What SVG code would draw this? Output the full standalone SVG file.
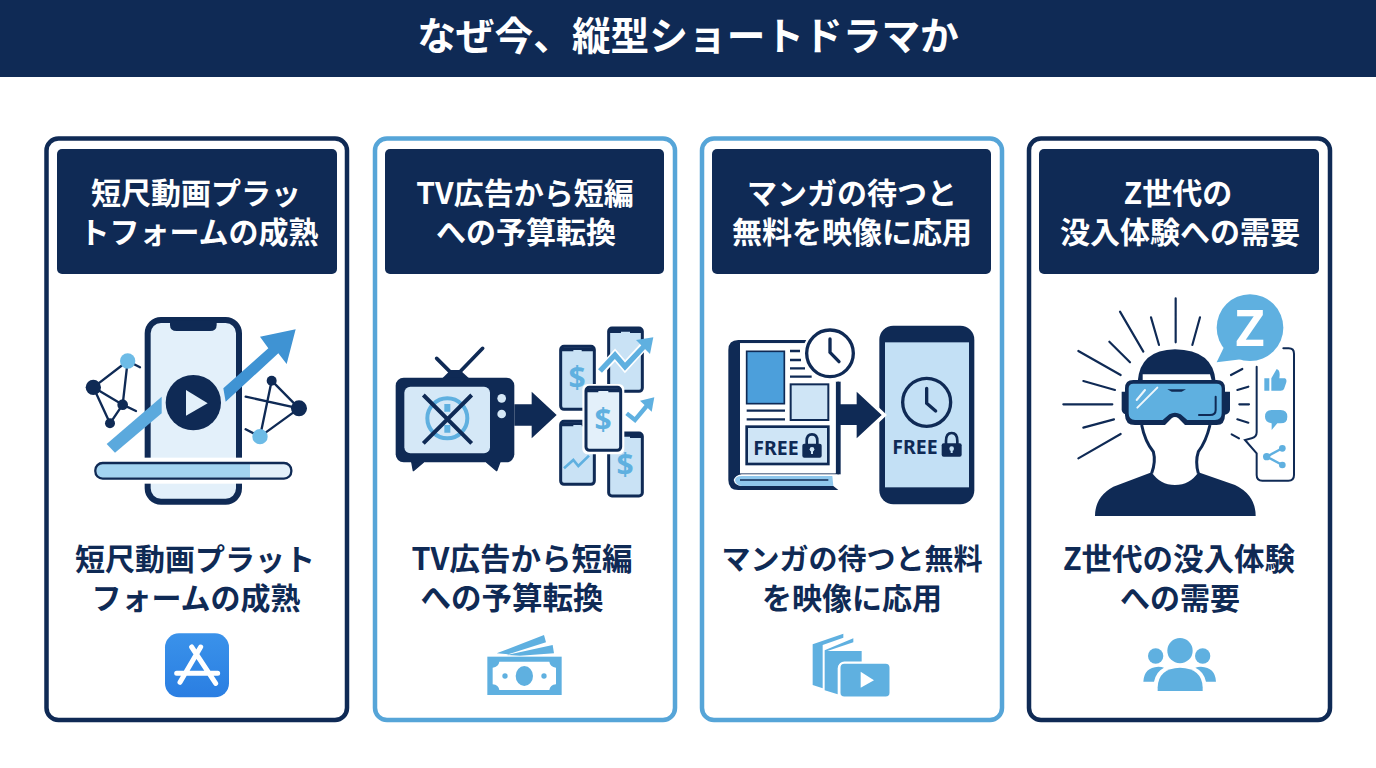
<svg xmlns="http://www.w3.org/2000/svg" width="1376" height="768" viewBox="0 0 1376 768">
<style>
text{font-family:"Noto Sans CJK JP","Noto Sans",sans-serif;font-weight:700;text-anchor:middle}
.title{font-size:38.7px;fill:#fff}
.head{font-size:30px;fill:#fff}
.sub{font-size:30px;fill:#0f2a55}
.free{font-family:"Noto Sans",sans-serif;font-size:19.5px;fill:#0f2a55}
.usd{font-family:"Noto Sans",sans-serif;fill:#5fb0e0;font-size:30px}
.card{fill:#fff;stroke-width:4.5}
.dark{stroke:#0f2a55}.light{stroke:#56a5d8}
.hd{fill:#0f2a55}
.n{fill:#0f2a55}.m{fill:#5fb0e0}.w{fill:#fff}
.ln{stroke:#0f2a55;fill:none;stroke-linecap:round}
.lb{stroke:#5fb0e0;fill:none}
.ph{fill:#c9e2f5;stroke:#0f2a55;stroke-width:9}
</style>
<defs><linearGradient id="app" x1="0" y1="0" x2="0" y2="1"><stop offset="0" stop-color="#3a92ea"/><stop offset="1" stop-color="#2a7ee2"/></linearGradient></defs>
<rect width="1376" height="768" fill="#fff"/>
<g id="title"><rect width="1376" height="77" class="hd"/><text x="688" y="50" class="title">なぜ今、縦型ショートドラマか</text></g>

<g id="card1">
<rect x="46.5" y="138.5" width="300.5" height="581.5" rx="12" class="card dark"/>
<rect x="57" y="149" width="280" height="125" rx="5" class="hd"/>
<text x="196" y="204" class="head">短尺動画プラッ</text><text x="199" y="243" class="head">トフォームの成熟</text>
<g transform="translate(60 300) scale(.33333)">
<rect x="263" y="60" width="274" height="545" rx="40" fill="#e3f0fa" stroke="#0f2a55" stroke-width="18"/>
<path d="M330 62H470V75Q470 93 450 93H350Q330 93 330 75Z" class="n"/>
<rect x="80" y="473" width="640" height="78" fill="#fff"/>
<rect x="106" y="489" width="588" height="47" rx="22" fill="#e3f0fa"/>
<path d="M125 492H570V533H125Q109 533 109 512Q109 492 125 492Z" fill="#a3d4f1"/>
<rect x="106" y="489" width="588" height="47" rx="22" fill="none" stroke="#0f2a55" stroke-width="7"/>
<path d="M203 183L240 202M100 262L203 183M203 183L188 314M100 262L188 314L228 333M100 262L150 370L188 314" class="ln" stroke-width="7"/>
<circle cx="100" cy="262" r="23" class="n"/><circle cx="203" cy="183" r="23" fill="#6dbbe6"/><circle cx="188" cy="314" r="16" class="n"/><circle cx="150" cy="370" r="15" class="n"/>
<path d="M557 290L717 325M635 242L717 325M635 242L600 410M717 325L600 410M557 388L600 410" class="ln" stroke-width="7"/>
<circle cx="635" cy="242" r="15" class="n"/><circle cx="717" cy="325" r="24" class="n"/><circle cx="600" cy="410" r="23" fill="#6dbbe6"/>
<path d="M140 432L165 458L305 340V290Z" fill="#5ba9dd"/>
<path d="M490 265L497 305L655 160L680 192L707 88L600 110L625 145Z" fill="#3f93d3"/>
<circle cx="400" cy="308" r="90" fill="#e3f0fa"/>
<circle cx="400" cy="308" r="83" class="n"/>
<path d="M378 270L443 310L378 347Z" fill="#e3f0fa"/>
</g>
<text x="195" y="570" class="sub">短尺動画プラット</text><text x="196" y="609" class="sub">フォームの成熟</text>
<g transform="translate(150 625) scale(.33333)">
<rect x="45" y="25" width="192" height="192" rx="42" fill="url(#app)"/>
<path d="M152 66L90 172M125 66L197 175M80 145H170M178 145H203" stroke="#fff" stroke-width="15" stroke-linecap="round" fill="none"/>
</g>
</g>

<g id="card2">
<rect x="375" y="138.5" width="300" height="581.5" rx="12" class="card light"/>
<rect x="385" y="149" width="279" height="125" rx="5" class="hd"/>
<text x="525" y="204" class="head">TV広告から短編</text><text x="526" y="243" class="head">への予算転換</text>
<g transform="translate(385 310) scale(.33333)">
<path d="M155 145L200 190M293 115L225 185" class="ln" stroke-width="11"/>
<path d="M172 205L197 180H225L252 205Z" class="n"/>
<path d="M80 455L85 482L115 457ZM305 457L335 482L345 455Z" class="n" stroke="#0f2a55" stroke-width="4" stroke-linejoin="round"/>
<rect x="32" y="203" width="356" height="254" rx="24" class="n"/>
<rect x="58" y="230" width="257" height="200" rx="18" fill="#d5e8f7"/>
<circle cx="187" cy="325" r="60" fill="none" stroke="#5fb0e0" stroke-width="12"/>
<path d="M187 282V305M187 345V368" stroke="#5fb0e0" stroke-width="18" fill="none"/>
<path d="M115 255L260 400M260 255L115 400" stroke="#0f2a55" stroke-width="12" fill="none"/>
<circle cx="350" cy="265" r="13" fill="#d5e8f7"/><circle cx="350" cy="312" r="13" fill="#d5e8f7"/>
<path d="M388 283H440V245L515 315L440 385V347H388Z" class="n"/>
<g class="ph">
<rect x="527" y="109" width="101" height="189" rx="10"/>
<rect x="671" y="54" width="101" height="190" rx="10"/>
<rect x="527" y="334" width="101" height="189" rx="10"/>
<rect x="671" y="369" width="101" height="189" rx="10"/>
</g>
<path d="M527 124V112H628V124H590V120H565V124ZM671 69V57H772V69H735V65H708V69ZM527 349V337H628V349H590V345H565V349ZM671 384V372H772V384H735V380H708V384Z" class="n"/>
<rect x="592" y="222" width="126" height="211" rx="16" fill="#fff"/>
<rect x="603" y="232" width="104" height="189" rx="10" class="ph" style="fill:#e3f0fa"/>
<path d="M603 247V235H707V247H670V243H640V247Z" class="n"/>
<path d="M645 185L690 135L720 170L775 110" fill="none" stroke="#fff" stroke-width="26"/>
<path d="M645 183L690 135L720 170L778 108" class="lb" stroke-width="16"/>
<path d="M753 90L805 82L795 132Z" class="m"/>
<path d="M725 310L750 330L790 282" class="lb" stroke-width="13"/>
<path d="M765 272L808 262L800 305Z" class="m"/>
<path d="M537 475L565 450L580 468L612 437" class="lb" stroke-width="8"/>
</g>
<text x="577" y="388" class="usd">$</text>
<text x="603" y="430" class="usd">$</text>
<text x="625" y="475" class="usd">$</text>
<text x="522" y="570" class="sub" style="font-size:30.5px">TV広告から短編</text><text x="512" y="609" class="sub" style="font-size:30.5px">への予算転換</text>
<g transform="translate(470 625) scale(.33333)">
<path d="M80 85L222 30L228 52L115 88ZM110 90L248 60L252 85L150 92Z" class="m"/>
<rect x="52" y="95" width="223" height="115" class="m"/>
<path d="M88 110H238Q240 125 258 128V178Q240 180 238 195H88Q86 180 68 178V128Q86 125 88 110Z" class="w"/>
<ellipse cx="163" cy="153" rx="26" ry="30" class="m"/><circle cx="105" cy="153" r="8" class="m"/><circle cx="222" cy="153" r="8" class="m"/>
</g>
</g>

<g id="card3">
<rect x="702" y="138.5" width="300" height="581.5" rx="12" class="card light"/>
<rect x="712" y="149" width="279" height="125" rx="5" class="hd"/>
<text x="852" y="204" class="head">マンガの待つと</text><text x="852" y="243" class="head">無料を映像に応用</text>
<g transform="translate(715 315) scale(.33333)">
<path d="M70 75H280V85H75V475H362V200H372V478H80Q60 482 56 495Q60 512 80 513H355L370 525H70Q40 525 40 495V105Q40 75 70 75Z" class="n"/>
<path d="M75 85H272V200H362V475H75Z" fill="#fff"/>
<path d="M372 200V478" stroke="#0f2a55" stroke-width="10"/>
<path d="M60 495Q62 483 80 483H352L355 513H80Q62 510 60 495Z" fill="#8fc7ec"/>
<path d="M75 495H340" stroke="#0f2a55" stroke-width="5"/>
<rect x="95" y="109" width="113" height="157" fill="#4c9fdb" stroke="#0f2a55" stroke-width="5"/>
<path d="M225 108H255M225 135H258M225 160H270M225 185H290M95 287H210M95 313H210" stroke="#0f2a55" stroke-width="7" fill="none"/>
<rect x="227" y="208" width="113" height="107" fill="#cfe5f6" stroke="#0f2a55" stroke-width="6"/>
<rect x="95" y="335" width="245" height="112" fill="#cfe5f6" stroke="#0f2a55" stroke-width="8"/>
<path d="M275 390V378Q275 358 291 358Q307 358 307 378V390" fill="none" stroke="#0f2a55" stroke-width="8"/>
<rect x="262" y="386" width="58" height="42" rx="6" class="n"/><circle cx="291" cy="403" r="7" fill="#cfe5f6"/><rect x="288" y="403" width="6" height="14" fill="#cfe5f6"/>
<circle cx="345" cy="115" r="82" fill="#fff"/>
<circle cx="345" cy="115" r="70" fill="#fff" stroke="#0f2a55" stroke-width="10"/>
<path d="M345 72V112L372 140" class="ln" stroke-width="10"/>
<rect x="493" y="32" width="285" height="536" rx="42" class="n"/>
<rect x="510" y="82" width="252" height="435" fill="#c3e0f5"/>
<path d="M462 258L507 300L462 342" fill="none" stroke="#fff" stroke-width="12"/>
<path d="M372 268H425V230L500 300L425 370V330H372Z" class="n"/>
<circle cx="635" cy="262" r="72" fill="none" stroke="#0f2a55" stroke-width="10"/>
<path d="M635 220V265L662 288" class="ln" stroke-width="10"/>
<path d="M693 390V378Q693 354 710 354Q727 354 727 378V390" fill="none" stroke="#0f2a55" stroke-width="8"/>
<rect x="680" y="385" width="60" height="40" rx="6" class="n"/><circle cx="710" cy="401" r="7" fill="#c3e0f5"/><rect x="707" y="401" width="6" height="13" fill="#c3e0f5"/>
</g>
<text x="776" y="455" class="free">FREE</text><text x="915" y="454" class="free">FREE</text>
<text x="852" y="570" class="sub" style="font-size:29px">マンガの待つと無料</text><text x="852" y="609" class="sub">を映像に応用</text>
<g transform="translate(800 625) scale(.33333)">
<path d="M38 58L130 26V38L68 60V190L38 180Q38 120 38 58Z" class="m"/>
<path d="M74 76L160 40V52L82 78H185V113H130Q114 115 113 130V208L74 196Z" class="m"/>
<rect x="118" y="113" width="154" height="105" rx="15" class="m" stroke="#fff" stroke-width="7"/>
<path d="M182 140L222 166L182 188Z" class="w"/>
</g>
</g>

<g id="card4">
<rect x="1029" y="138.5" width="301" height="581.5" rx="12" class="card dark"/>
<rect x="1039" y="149" width="280" height="125" rx="5" class="hd"/>
<text x="1178" y="204" class="head">Z世代の</text><text x="1180" y="243" class="head">没入体験への需要</text>
<g transform="translate(1050 285) scale(.33333)">
<path d="M377 40V172M303 97L327 180M450 97L427 180M210 80L280 200M178 170L240 232M85 198L212 270M100 288L195 315M40 358H187M100 428L192 403M85 520L212 447M543 270L577 252M562 315L595 305M568 358H597M562 403L595 413M545 448L567 460" class="ln" stroke-width="6.5"/>
<path d="M135 693Q135 635 190 605L305 562Q330 600 375 600Q420 600 445 562L555 600Q617 630 617 693Z" class="n"/>
<path d="M275 420Q285 470 310 500Q318 530 305 565M480 420Q468 470 445 500Q435 530 445 565" fill="none" stroke="#0f2a55" stroke-width="9"/>
<path d="M263 290Q270 195 375 193Q490 195 497 290Z" class="n"/>
<path d="M278 268H480L485 286H278Z" class="w"/>
<path d="M225 320H215V375Q217 388 235 390V320ZM525 320H540V375Q538 388 520 390V320Z" class="n"/>
<path d="M250 285H500Q525 285 525 310V390Q525 420 500 420H405L385 400Q375 392 365 400L345 420H255Q225 420 225 390V310Q225 285 250 285Z" class="n"/>
<path d="M250 296H500Q515 296 515 310V385Q515 405 495 405H412L392 388Q375 378 358 388L338 405H255Q236 405 236 385V310Q236 296 250 296Z" fill="#5fb0e0"/>
<path d="M260 345L285 315M262 368L322 308" stroke="#fff" stroke-width="6" stroke-linecap="round" opacity=".9"/>
<path d="M352 313H408L395 320H365Z" class="n"/>
<path d="M497 335V375Q497 390 480 390H447" class="ln" stroke-width="6"/>
<circle cx="600" cy="128" r="100" class="m"/>
<path d="M525 180L500 232L580 222Z" class="m"/>
<path d="M700 190H716Q732 190 732 206V570Q732 587 715 587H637Q620 587 620 570V505L585 465L605 460Q620 456 620 442V245" class="ln" stroke-width="6"/>
<path d="M643 280H658V317H643ZM664 280L680 252Q692 255 688 280H705Q712 283 708 295L702 312Q700 317 692 317H664Z" class="m"/>
<path d="M665 375H692Q712 375 712 395Q712 415 692 415H682L665 435V415Q645 412 645 395Q645 375 665 375Z" class="m"/>
<path d="M697 490L650 515L697 540" stroke="#5fb0e0" stroke-width="7" fill="none"/>
<circle cx="697" cy="490" r="10" class="m"/><circle cx="650" cy="515" r="11" class="m"/><circle cx="697" cy="540" r="10" class="m"/>
</g>
<text x="1250" y="346" style="font-size:50px;font-family:'Noto Sans',sans-serif" fill="#fff">Z</text>
<text x="1179" y="570" class="sub" style="font-size:30.5px">Z世代の没入体験</text><text x="1180" y="609" class="sub">への需要</text>
<g transform="translate(1130 630) scale(.33333)">
<circle cx="150" cy="62" r="38" class="m"/><circle cx="77" cy="78" r="23" class="m"/><circle cx="218" cy="78" r="23" class="m"/>
<path d="M40 155Q42 112 85 110Q95 110 102 113Q78 125 72 155Z" class="m"/>
<path d="M258 155Q256 112 213 110Q203 110 196 113Q222 125 228 155Z" class="m"/>
<path d="M83 183V172Q85 115 150 113Q216 115 218 172V183Z" class="m"/>
</g>
</g>
</svg>
